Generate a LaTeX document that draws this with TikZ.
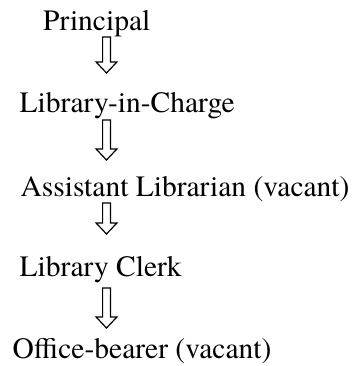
\documentclass[tikz,border=0pt]{standalone}
\usepackage{fontspec}
\setmainfont{texgyretermes-regular.otf}
\usetikzlibrary{calc}

\tikzstyle{post} = [inner sep=0pt, anchor=base west, font=\fontsize{29.5}{30}\selectfont]
\tikzstyle{downarrow} = [draw, line width=1.2pt, line join=miter, to path={([xshift=-3.9pt]\tikztostart) -- ([xshift=3.9pt]\tikztostart) -- ([shift={(3.9pt,11pt)}]\tikztotarget) -- ([shift={(10.4pt,11pt)}]\tikztotarget) -- (\tikztotarget) -- ([shift={(-10.4pt,11pt)}]\tikztotarget) -- ([shift={(-3.9pt,11pt)}]\tikztotarget) -- cycle}]

\begin{document}
\begin{tikzpicture}[x=1pt, y=1pt]
\useasboundingbox (0,0) rectangle (356,366);
% cargos
\node [post] (princ) at (43,335) {Principal};
\node [post] (lcharge) at (19.5,253) {Library-in-Charge};
\node [post] (asstlib) at (20.5,169) {Assistant Librarian (vacant)};
\node [post] (clerk) at (19.5,89) {Library Clerk};
\node [post] (office) at (12.5,8) {Office-bearer (vacant)};
% eixo das setas
\coordinate (axis) at (106.5,0);
%arrows
\path [downarrow] ([yshift=-6pt]princ.base -| axis) to ([yshift=40pt]lcharge.base -| axis);
\path [downarrow] ([yshift=-7pt]lcharge.base -| axis) to ([yshift=37pt]asstlib.base -| axis);
\path [downarrow] ([yshift=-6pt]asstlib.base -| axis) to ([yshift=43pt]clerk.base -| axis);
\path [downarrow] ([yshift=-11pt]clerk.base -| axis) to ([yshift=30pt]office.base -| axis);
\end{tikzpicture}
\end{document}
